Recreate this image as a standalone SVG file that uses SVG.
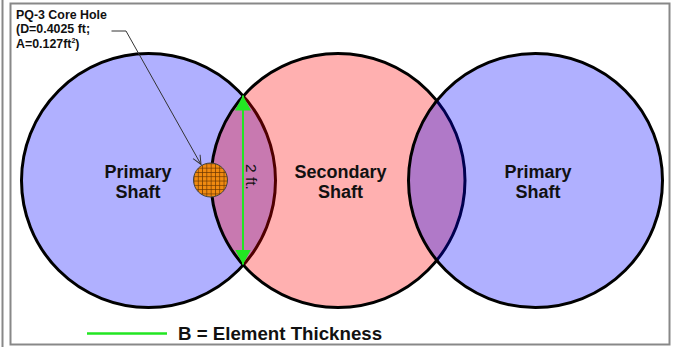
<svg xmlns="http://www.w3.org/2000/svg" width="673" height="347" viewBox="0 0 673 347">
<style>
.lbl{font-family:"Liberation Sans",Arial,sans-serif;font-weight:bold;font-size:18px;fill:#111;text-anchor:middle}
.note{font-family:"Liberation Sans",Arial,sans-serif;font-weight:bold;font-size:12.4px;fill:#111}
.shaft{stroke:#000;stroke-width:3}
.blue{fill:#0000ff;fill-opacity:0.31}
.red{fill:#ff0000;fill-opacity:0.31}
</style>
<defs>
<pattern id="grid" patternUnits="userSpaceOnUse" width="4.3" height="4.3" x="0" y="0">
<rect width="4.3" height="4.3" fill="#f08a10"/>
<path d="M0 0.4H4.3M0.4 0V4.3" stroke="#6a3400" stroke-width="0.7"/>
</pattern>
<marker id="open" markerWidth="12" markerHeight="12" refX="10" refY="5" orient="auto" markerUnits="userSpaceOnUse">
<path d="M1 1L10 5L1 9" fill="none" stroke="#333" stroke-width="1"/>
</marker>
<marker id="gtri" markerWidth="18" markerHeight="18" refX="15" refY="8.5" orient="auto" markerUnits="userSpaceOnUse">
<path d="M0 0.5L15 8.5L0 16.5Z" fill="#22e622"/>
</marker>
</defs>
<rect x="0" y="0" width="673" height="347" fill="#fff"/>
<g id="frame" fill="none" stroke="#888" stroke-width="2">
<line x1="2.5" y1="0" x2="2.5" y2="347"/>
<rect x="10.5" y="3.5" width="659" height="341"/>
</g>
<g id="primary-left">
<circle class="shaft blue" cx="148.5" cy="180.5" r="127"/>
<text class="lbl" x="138" y="178">Primary</text>
<text class="lbl" x="138" y="198">Shaft</text>
</g>
<g id="secondary">
<circle class="shaft red" cx="338" cy="180.5" r="127"/>
<text class="lbl" x="340.5" y="178">Secondary</text>
<text class="lbl" x="340.5" y="198">Shaft</text>
</g>
<g id="primary-right">
<circle class="shaft blue" cx="535.5" cy="180.5" r="127"/>
<text class="lbl" x="538" y="178">Primary</text>
<text class="lbl" x="538" y="198">Shaft</text>
</g>
<g id="core-hole">
<circle cx="210.5" cy="180" r="17" fill="url(#grid)" stroke="#444" stroke-width="1"/>
<text class="note" x="16" y="19">PQ-3 Core Hole</text>
<text class="note" x="16" y="33.3">(D=0.4025 ft;</text>
<text class="note" x="16" y="47.6">A=0.127ft<tspan font-size="7" dy="-5">2</tspan><tspan dy="5">)</tspan></text>
</g>
<g id="thickness">
<text x="245.5" y="177" transform="rotate(90 245.5 177)" font-family="'Liberation Sans',Arial,sans-serif" font-size="15.5" fill="#111" text-anchor="middle">2 ft.</text>
</g>
<g id="connectors">
<polyline points="111.5,31 126,31 201,164.5" fill="none" stroke="#333" stroke-width="1" marker-end="url(#open)"/>
<line x1="243" y1="110" x2="243" y2="250" stroke="#22e622" stroke-width="2"/>
<line x1="243" y1="180" x2="243" y2="95.5" stroke="#22e622" stroke-width="2" marker-end="url(#gtri)"/>
<line x1="243" y1="180" x2="243" y2="264.5" stroke="#22e622" stroke-width="2" marker-end="url(#gtri)"/>
</g>
<g id="legend">
<line x1="87" y1="333.5" x2="167" y2="333.5" stroke="#22e622" stroke-width="2.5"/>
<text x="178" y="339.5" font-family="'Liberation Sans',Arial,sans-serif" font-weight="bold" font-size="18.7" fill="#111">B = Element Thickness</text>
</g>
</svg>
